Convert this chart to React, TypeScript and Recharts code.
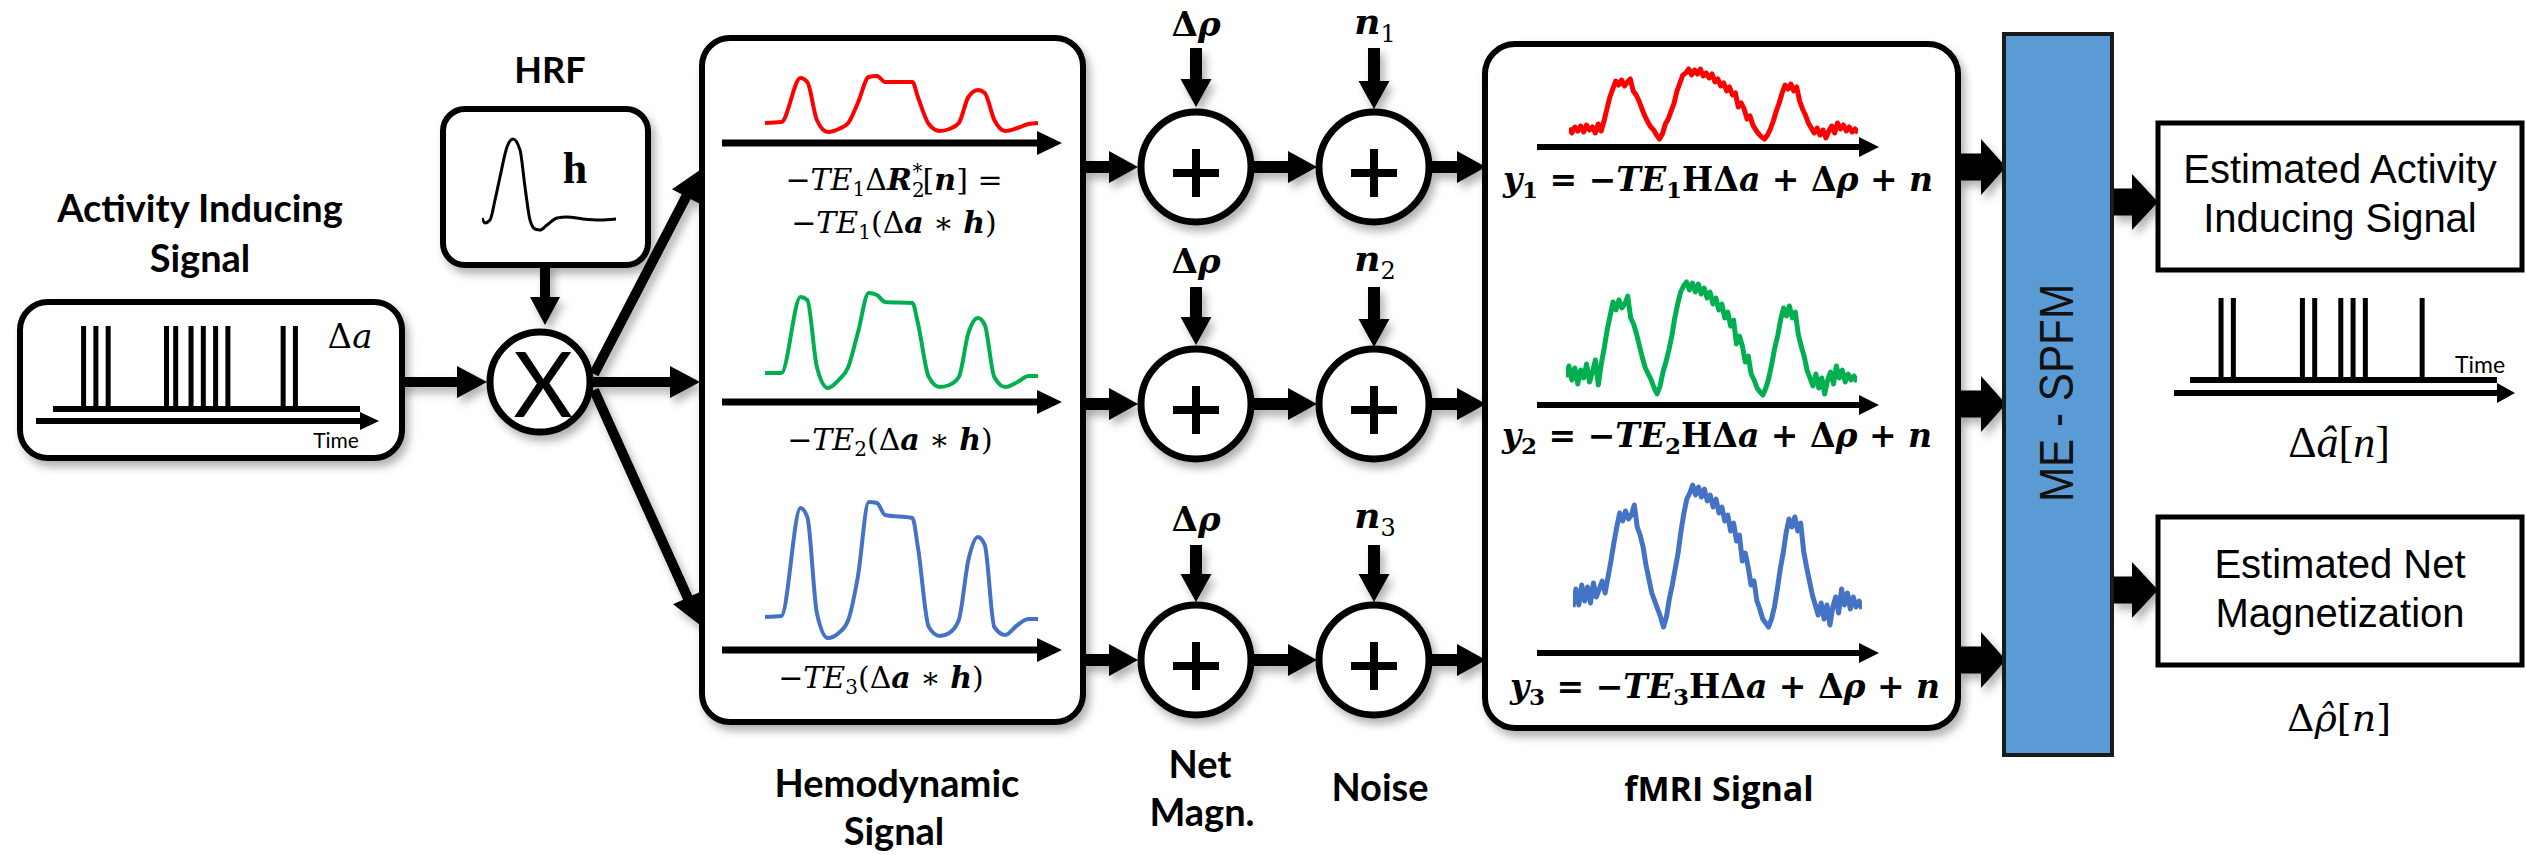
import React from 'react';
import { LineChart, Line, XAxis, YAxis, BarChart, Bar } from 'recharts';

// ---------------- data ----------------
// hemodynamic responses (time 0..100), one per echo time
const hemTime = [0, 6, 13, 15.5, 19, 23, 27, 30.5, 34, 38, 41, 44, 54, 56, 60, 64, 67.5, 71, 74.5, 78, 80.5, 84, 88, 92.5, 96.5, 100];
const hemTE1 = [0, 1, 45, 41, 3, -9, -6, 0, 20, 46, 47, 41, 41, 26, -1, -8, -6, 0, 26, 33, 30, 3, -8, -5, -1, 0];
const hemTE2 = [0, 0, 76, 73, 6, -15, -7, 6, 40, 80, 78, 71, 70, 50, -4, -14, -12, -4, 40, 55, 48, -4, -14, -9, -3, -3];
const hemTE3 = [0, 1, 109, 100, 4, -21, -16, -3, 40, 115, 114, 102, 99, 70, -10, -19, -16, -3, 57, 80, 72, -10, -18, -8, -2, -2];

// HRF sketch
const hrfTime = [0, 3, 8, 13, 18, 25, 31, 38, 43, 48, 53, 58, 65, 75, 85, 101, 118, 134];
const hrfValues = [1, -4, -1, 19, 42, 72, 80, 69, 32, -1, -10, -11, -6, 1, 2, 0, -1, 0];

// noisy fMRI signals (one sample per index)
const fmriTE1 = [
  3, -2, 4, 0, 5, -1, 6, 1, 4, -2, 7, 0, 10, 22, 34, 42, 50, 46, 51, 45,
  49, 52, 40, 36, 30, 22, 15, 9, 4, 1, -4, -8, -3, 7, 12, 20, 28, 40, 48, 56,
  58, 62, 56, 61, 57, 62, 55, 58, 53, 57, 49, 52, 45, 48, 40, 44, 36, 38, 24, 28,
  22, 12, 15, 6, 1, -3, -6, -8, -4, 2, 10, 20, 28, 38, 46, 42, 47, 40, 44, 30,
  22, 16, 8, 3, -2, 3, -4, 1, -7, 0, 5, -2, 8, 2, 6, 0, 4, -1, 2, -2,
];
const fmriTE2 = [
  5, 16, 2, 14, -2, 12, 4, 18, 0, 10, 22, -3, 18, 34, 52, 66, 80, 72, 82, 74,
  78, 86, 64, 58, 48, 36, 24, 14, 8, 2, -6, -12, -4, 10, 20, 32, 46, 64, 78, 90,
  96, 100, 92, 99, 90, 98, 88, 94, 84, 90, 78, 84, 72, 78, 64, 70, 56, 62, 38, 46,
  36, 20, 26, 8, 2, -6, -10, -13, -6, 4, 18, 34, 46, 62, 74, 66, 76, 64, 70, 48,
  36, 26, 12, 4, -4, 8, -6, 4, -12, 2, 10, -2, 16, 4, 12, 0, 8, 2, 6, 0,
];
const fmriTE3 = [
  4, 22, 6, 26, 10, 24, 8, 28, 14, 22, 30, 18, 34, 50, 68, 84, 98, 90, 100, 92,
  96, 106, 84, 76, 64, 46, 32, 18, 10, 2, -6, -16, -6, 12, 26, 42, 58, 80, 98, 112,
  118, 126, 116, 124, 114, 122, 110, 116, 104, 112, 98, 104, 90, 96, 80, 88, 70, 76, 50, 58,
  44, 26, 30, 10, 2, -8, -12, -16, -8, 4, 22, 42, 58, 78, 92, 84, 94, 80, 88, 60,
  44, 30, 16, 6, -4, 8, -8, 6, -14, 4, 14, -2, 22, 6, 18, 2, 14, 4, 10, 2,
];

// spike times (0..100)
const activitySpikes = [10, 14, 18, 37, 40, 45, 49, 53, 57, 75, 79];
const estimatedSpikes = [10, 14, 36.5, 40.5, 49, 53, 57, 75.5];

const RED = '#ff0000';
const GREEN = '#00b050';
const BLUE = '#4472c4';
const W = 2526;
const H = 855;

type WaveProps = {
  xs: number[];
  ys: number[];
  left: number;
  top: number;
  width: number;
  height: number;
  yDomain: [number, number];
  color: string;
  strokeWidth: number;
  curve: 'monotone' | 'linear';
};

function Wave({ xs, ys, left, top, width, height, yDomain, color, strokeWidth, curve }: WaveProps) {
  const data = xs.map((t, i) => ({ t, v: ys[i] }));
  return (
    <div style={{ position: 'absolute', left, top }}>
      <LineChart width={width} height={height} data={data} margin={{ top: 0, right: 0, bottom: 0, left: 0 }}>
        <XAxis type="number" dataKey="t" domain={[xs[0], xs[xs.length - 1]]} hide />
        <YAxis type="number" domain={yDomain} hide />
        <Line
          dataKey="v"
          type={curve}
          stroke={color}
          strokeWidth={strokeWidth}
          strokeLinejoin="round"
          dot={false}
          isAnimationActive={false}
        />
      </LineChart>
    </div>
  );
}

function Spikes({ times, left, top, width, height }: { times: number[]; left: number; top: number; width: number; height: number }) {
  const data = times.map((t) => ({ t, h: 1 }));
  return (
    <div style={{ position: 'absolute', left, top }}>
      <BarChart width={width} height={height} data={data} margin={{ top: 0, right: 0, bottom: 0, left: 0 }}>
        <XAxis type="number" dataKey="t" domain={[0, 100]} hide />
        <YAxis type="number" domain={[0, 1]} hide />
        <Bar dataKey="h" fill="#000" barSize={5} isAnimationActive={false} />
      </BarChart>
    </div>
  );
}

// polygon for a straight arrow from (x1,y1) to tip (x2,y2)
function arrowPts(x1: number, y1: number, x2: number, y2: number, s: number, hl: number, hw: number) {
  const len = Math.hypot(x2 - x1, y2 - y1);
  const ux = (x2 - x1) / len;
  const uy = (y2 - y1) / len;
  const px = -uy;
  const py = ux;
  const bx = x2 - ux * hl;
  const by = y2 - uy * hl;
  const p = [
    [x1 + (px * s) / 2, y1 + (py * s) / 2],
    [bx + (px * s) / 2, by + (py * s) / 2],
    [bx + (px * hw) / 2, by + (py * hw) / 2],
    [x2, y2],
    [bx - (px * hw) / 2, by - (py * hw) / 2],
    [bx - (px * s) / 2, by - (py * s) / 2],
    [x1 - (px * s) / 2, y1 - (py * s) / 2],
  ];
  return p.map((q) => q.join(',')).join(' ');
}

const rowY = [167, 404, 660];
const plusX = [1196, 1374];

export default function App() {
  const arrows: number[][] = [
    [400, 382, 487, 382, 10, 30, 32],
    [545, 263, 545, 325, 10, 28, 30],
    [590, 382, 700, 382, 10, 30, 32],
    [594, 374, 700, 170, 10, 30, 32],
    [594, 390, 700, 625, 10, 30, 32],
    ...rowY.flatMap((y) => [
      [1083, y, 1138, y, 12, 29, 32],
      [1252, y, 1317, y, 12, 29, 32],
      [1431, y, 1486, y, 12, 29, 32],
      [1958, y, 2006, y, 27, 25, 56],
    ]),
    [1196, 48, 1196, 107, 12, 28, 31],
    [1196, 287, 1196, 345, 12, 28, 31],
    [1196, 545, 1196, 602, 12, 28, 31],
    [1374, 48, 1374, 109, 12, 28, 31],
    [1374, 287, 1374, 347, 12, 28, 31],
    [1374, 545, 1374, 602, 12, 28, 31],
    [2112, 202, 2158, 202, 27, 26, 56],
    [2112, 590, 2158, 590, 27, 26, 56],
  ];
  const axes: number[][] = [
    [722, 143, 1062, 143, 7, 25, 24],
    [722, 402, 1062, 402, 7, 25, 24],
    [722, 650, 1062, 650, 7, 25, 24],
    [1537, 147, 1879, 147, 6, 20, 20],
    [1537, 405, 1879, 405, 6, 20, 20],
    [1537, 653, 1879, 653, 6, 20, 20],
    [36, 421, 379, 421, 6, 19, 18],
    [2174, 393, 2515, 393, 6, 18, 20],
  ];
  const title = { fontFamily: 'Lato', fontWeight: 700, fontSize: 38, textAnchor: 'middle' as const };
  const math = { fontFamily: 'DejaVu Serif', fontSize: 30, textAnchor: 'middle' as const };
  const bmath = { fontFamily: 'DejaVu Serif', fontWeight: 700, fontSize: 33, textAnchor: 'middle' as const };
  const sans = { fontFamily: 'Liberation Sans', fontSize: 40, textAnchor: 'middle' as const };
  const hemLabels = [
    { x: 894, y: 233, te: '1' },
    { x: 890, y: 450, te: '2' },
    { x: 881, y: 688, te: '3' },
  ];
  const fmriLabels = [
    { x: 1718, y: 191, te: '1' },
    { x: 1717, y: 447, te: '2' },
    { x: 1725, y: 698, te: '3' },
  ];

  return (
    <div style={{ position: 'relative', width: W, height: H, background: '#fff', overflow: 'hidden' }}>
      <style>{'body{margin:0;background:#fff}'}</style>
      <svg width={W} height={H} style={{ position: 'absolute', left: 0, top: 0 }}>
        <defs>
          <filter id="sh" filterUnits="userSpaceOnUse" x={0} y={0} width={W} height={H}>
            <feDropShadow dx={4} dy={6} stdDeviation={4} floodColor="#000" floodOpacity={0.3} />
          </filter>
        </defs>

        {/* connection arrows */}
        <g filter="url(#sh)">
          {arrows.map((a, i) => (
            <polygon key={i} points={arrowPts(a[0], a[1], a[2], a[3], a[4], a[5], a[6])} fill="#000" />
          ))}
        </g>

        {/* rounded blocks */}
        <g filter="url(#sh)" fill="#fff" stroke="#000" strokeWidth={6}>
          <rect x={20} y={302} width={382} height={156} rx={28} />
          <rect x={443} y={109} width={205} height={156} rx={22} />
          <rect x={702} y={38} width={381} height={684} rx={28} />
          <rect x={1485} y={44} width={473} height={684} rx={30} />
          <circle cx={540} cy={382} r={50} strokeWidth={7} />
          {rowY.flatMap((y) =>
            plusX.map((x) => <circle key={`${x}-${y}`} cx={x} cy={y} r={55} strokeWidth={7} />),
          )}
        </g>

        {/* plus signs */}
        {rowY.flatMap((y) =>
          plusX.map((x) => (
            <g key={`p${x}-${y}`} fill="#000">
              <rect x={x - 23} y={y + 2} width={46} height={8} />
              <rect x={x - 4} y={y - 18} width={8} height={48} />
            </g>
          )),
        )}
        <text x={543} y={417} fontFamily="Lato" fontSize={92} textAnchor="middle">X</text>

        {/* axes */}
        {axes.map((a, i) => (
          <polygon key={`ax${i}`} points={arrowPts(a[0], a[1], a[2], a[3], a[4], a[5], a[6])} fill="#000" />
        ))}
        <rect x={53} y={406} width={307} height={6} fill="#000" />
        <rect x={2190} y={377} width={307} height={6} fill="#000" />

        {/* ME-SPFM block and outputs */}
        <rect x={2004} y={34} width={108} height={721} fill="#5b9bd5" stroke="#1a1a1a" strokeWidth={4} />
        <text transform="translate(2057,393) rotate(-90) scale(0.88,1)" dominantBaseline="central" fontFamily="Liberation Sans" fontSize={48} textAnchor="middle" fill="#111">ME - SPFM</text>
        <rect x={2158} y={123} width={364} height={147} fill="#fff" stroke="#000" strokeWidth={5} />
        <rect x={2158} y={517} width={364} height={148} fill="#fff" stroke="#000" strokeWidth={5} />
        <text x={2340} y={183} {...sans}>Estimated Activity</text>
        <text x={2340} y={232} {...sans}>Inducing Signal</text>
        <text x={2340} y={578} {...sans}>Estimated Net</text>
        <text x={2340} y={627} {...sans}>Magnetization</text>
        <text x={2480} y={373} fontFamily="Lato" fontSize={23} textAnchor="middle">Time</text>
        <text x={2339} y={457} fontFamily="Liberation Serif" fontSize={44} textAnchor="middle">
          Δ<tspan fontStyle="italic">â</tspan>[<tspan fontStyle="italic">n</tspan>]
        </text>
        <text x={2339} y={731} fontFamily="DejaVu Serif" fontSize={38} textAnchor="middle">
          Δ<tspan fontStyle="italic">{'ρ\u0302'}</tspan>[<tspan fontStyle="italic">n</tspan>]
        </text>

        {/* titles */}
        <text x={200} y={222} {...title}>Activity Inducing</text>
        <text x={200} y={272} {...title}>Signal</text>
        <text x={550} y={83} {...title} fontSize={36}>HRF</text>
        <text x={897} y={797} {...title}>Hemodynamic</text>
        <text x={894} y={845} {...title}>Signal</text>
        <text x={1200} y={778} {...title}>Net</text>
        <text x={1202} y={826} {...title}>Magn.</text>
        <text x={1380} y={801} {...title}>Noise</text>
        <text x={1719} y={801} fontFamily="Open Sans" fontWeight={700} fontSize={34} textAnchor="middle">fMRI Signal</text>

        {/* small labels */}
        <text x={336} y={448} fontFamily="Lato" fontSize={21} textAnchor="middle">Time</text>
        <text x={350} y={348} fontFamily="DejaVu Serif" fontSize={34} textAnchor="middle">
          Δ<tspan fontStyle="italic">a</tspan>
        </text>
        <text x={575} y={183} fontFamily="Liberation Serif" fontWeight={700} fontSize={44} textAnchor="middle">h</text>
        {[36, 273, 531].map((y, i) => (
          <text key={`dr${i}`} x={1196} y={y} fontFamily="DejaVu Serif" fontWeight={700} fontSize={34} textAnchor="middle">
            Δ<tspan fontStyle="italic">ρ</tspan>
          </text>
        ))}
        {[34, 271, 528].map((y, i) => (
          <text key={`n${i}`} x={1375} y={y} fontFamily="DejaVu Serif" fontSize={36} textAnchor="middle">
            <tspan fontStyle="italic" fontWeight={700}>n</tspan>
            <tspan fontSize={24} dy={8}>{i + 1}</tspan>
          </text>
        ))}

        {/* hemodynamic formulas */}
        <text x={894} y={190} {...math}>
          −<tspan fontStyle="italic">TE</tspan>
          <tspan fontSize={20} dy={6}>1</tspan>
          <tspan dy={-6}>Δ</tspan>
          <tspan fontStyle="italic" fontWeight={700}>R</tspan>
          <tspan fontSize={20} dy={7}>2</tspan>
          <tspan fontSize={20} dx={-12} dy={-19}>*</tspan>
          <tspan dy={12}>[</tspan>
          <tspan fontStyle="italic" fontWeight={700}>n</tspan>
          <tspan>] =</tspan>
        </text>
        {hemLabels.map((l) => (
          <text key={`h${l.te}`} x={l.x} y={l.y} {...math}>
            −<tspan fontStyle="italic">TE</tspan>
            <tspan fontSize={20} dy={6}>{l.te}</tspan>
            <tspan dy={-6}>(Δ</tspan>
            <tspan fontStyle="italic" fontWeight={700}>a</tspan>
            <tspan> ∗ </tspan>
            <tspan fontStyle="italic" fontWeight={700}>h</tspan>
            <tspan>)</tspan>
          </text>
        ))}

        {/* fMRI formulas */}
        {fmriLabels.map((l) => (
          <text key={`y${l.te}`} x={l.x} y={l.y} {...bmath}>
            <tspan fontStyle="italic">y</tspan>
            <tspan fontSize={23} dy={7}>{l.te}</tspan>
            <tspan dy={-7}> = −</tspan>
            <tspan fontStyle="italic">TE</tspan>
            <tspan fontSize={23} dy={7}>{l.te}</tspan>
            <tspan dy={-7}>HΔ</tspan>
            <tspan fontStyle="italic">a</tspan>
            <tspan> + Δ</tspan>
            <tspan fontStyle="italic">ρ</tspan>
            <tspan> + </tspan>
            <tspan fontStyle="italic">n</tspan>
          </text>
        ))}
      </svg>

      {/* signals */}
      <Spikes times={activitySpikes} left={53} top={326} width={307} height={82} />
      <Spikes times={estimatedSpikes} left={2190} top={298} width={307} height={80} />
      <Wave xs={hrfTime} ys={hrfValues} left={482} top={129} width={134} height={110} yDomain={[-20, 90]} color="#000" strokeWidth={3} curve="monotone" />

      <Wave xs={hemTime} ys={hemTE1} left={765} top={68} width={273} height={75} yDomain={[-20, 55]} color={RED} strokeWidth={4} curve="monotone" />
      <Wave xs={hemTime} ys={hemTE2} left={765} top={283} width={273} height={115} yDomain={[-25, 90]} color={GREEN} strokeWidth={4} curve="monotone" />
      <Wave xs={hemTime} ys={hemTE3} left={765} top={492} width={273} height={155} yDomain={[-30, 125]} color={BLUE} strokeWidth={4} curve="monotone" />

      <Wave xs={fmriTE1.map((_, i) => i)} ys={fmriTE1} left={1569} top={61} width={289} height={90} yDomain={[-20, 70]} color={RED} strokeWidth={5} curve="linear" />
      <Wave xs={fmriTE2.map((_, i) => i)} ys={fmriTE2} left={1566} top={272} width={291} height={135} yDomain={[-25, 110]} color={GREEN} strokeWidth={5} curve="linear" />
      <Wave xs={fmriTE3.map((_, i) => i)} ys={fmriTE3} left={1573} top={471} width={289} height={170} yDomain={[-30, 140]} color={BLUE} strokeWidth={5} curve="linear" />
    </div>
  );
}
